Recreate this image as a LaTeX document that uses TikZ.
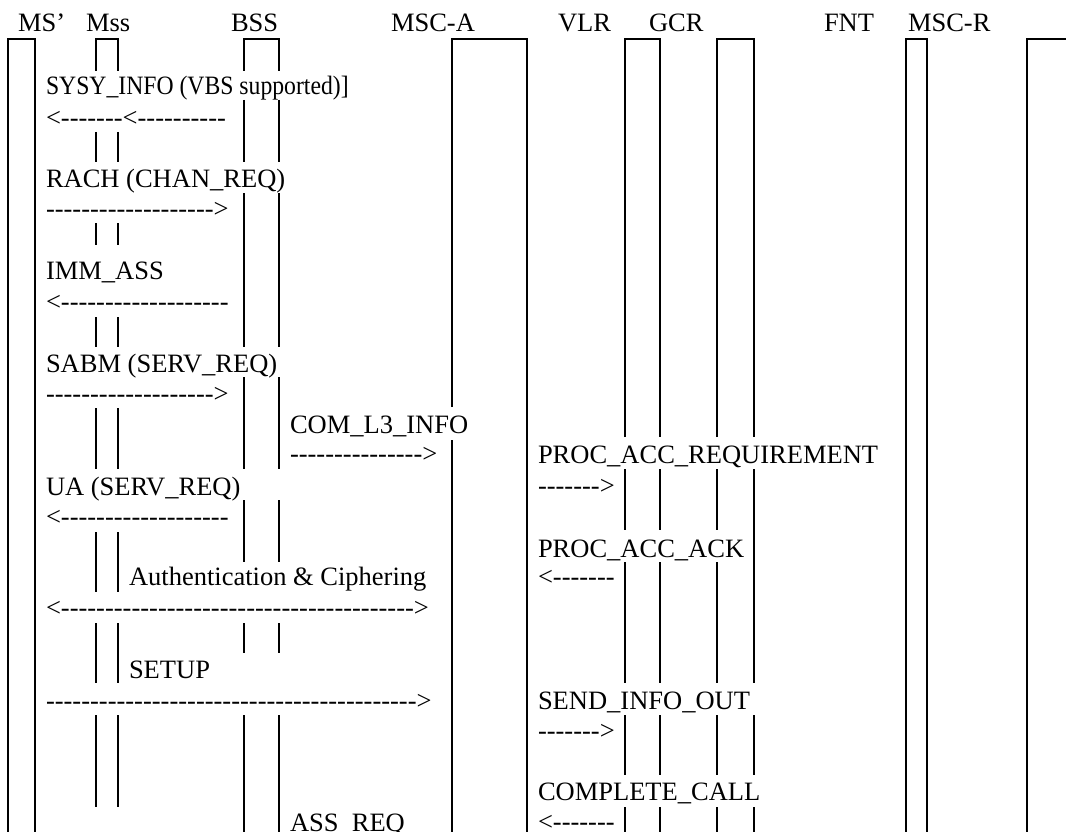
\documentclass[tikz,border=0pt]{standalone}
\usepackage{fontspec}
\newfontfamily\sigfont{Liberation Serif}

\tikzset{
  lbl/.style={anchor=base west, inner sep=0pt, font=\sigfont\fontsize{26.5}{30}\selectfont},
}

\begin{document}
\begin{tikzpicture}[x=1pt, y=-1pt, line width=2pt]

  \useasboundingbox (0,0) rectangle (1066,832);
  \clip (0,0) rectangle (1066,832);

  % --- intestazioni ---
  \node[lbl] (hMS)   at (17,32)  {MS’};
  \node[lbl] (hMss)  at (85,32)  {Mss};
  \node[lbl] (hBSS)  at (230,32) {BSS};
  \node[lbl] (hMSCA) at (390,32) {MSC-A};
  \node[lbl] (hVLR)  at (557,32) {VLR};
  \node[lbl] (hGCR)  at (648,32) {GCR};
  \node[lbl] (hFNT)  at (823,32) {FNT};
  \node[lbl] (hMSCR) at (907,32) {MSC-R};

  % --- MS' ---
  \draw (8,840) -- (8,39) -- (35,39) -- (35,840);

  % --- Mss (interrotta dai messaggi) ---
  \draw (96,71) -- (96,39) -- (118,39) -- (118,71);
  \draw (96,132) -- (96,162) (118,132) -- (118,162);
  \draw (96,223) -- (96,245) (118,223) -- (118,245);
  \draw (96,317) -- (96,347) (118,317) -- (118,347);
  \draw (96,408) -- (96,469) (118,408) -- (118,469);
  \draw (96,532) -- (96,592) (118,532) -- (118,592);
  \draw (96,623) -- (96,683) (118,623) -- (118,683);
  \draw (96,715) -- (96,807) (118,715) -- (118,807);

  % --- BSS ---
  \draw (244,71) -- (244,39) -- (279,39) -- (279,71);
  \draw (244,100) -- (244,162) (279,100) -- (279,162);
  \draw (244,193) -- (244,347) (279,193) -- (279,347);
  \draw (244,377) -- (244,469) (279,377) -- (279,469);
  \draw (244,500) -- (244,562) (279,500) -- (279,562);
  \draw (244,623) -- (244,653) (279,623) -- (279,653);
  \draw (244,715) -- (244,840) (279,715) -- (279,840);

  % --- MSC-A ---
  \draw (452,407) -- (452,39) -- (527,39) -- (527,840);
  \draw (452,440) -- (452,840);

  % --- VLR / GCR ---
  \draw (625,437) -- (625,39) -- (660,39) -- (660,437);
  \draw (625,469) -- (625,530) (660,469) -- (660,530);
  \draw (625,562) -- (625,683) (660,562) -- (660,683);
  \draw (625,715) -- (625,775) (660,715) -- (660,775);
  \draw (625,807) -- (625,840) (660,807) -- (660,840);

  \draw (717,437) -- (717,39) -- (754,39) -- (754,437);
  \draw (717,469) -- (717,530) (754,469) -- (754,683);
  \draw (717,562) -- (717,683);
  \draw (717,715) -- (717,775) (754,715) -- (754,775);
  \draw (717,807) -- (717,840) (754,807) -- (754,840);

  % --- MSC-R e ultima colonna ---
  \draw (906,840) -- (906,39) -- (927,39) -- (927,840);
  \draw (1027,840) -- (1027,39) -- (1080,39);

  % --- messaggi MS / BSS ---
  \node[lbl] (sysInfo) at (45,95)  {\scalebox{0.894}[1]{SYSY\_INFO (VBS supported)]}};
  \node[lbl] (sysArr)  at (45,127) {<-------<----------};
  \node[lbl] (rach)    at (45,188) {RACH (CHAN\_REQ)};
  \node[lbl] (rachArr) at (45,217) {------------------->};
  \node[lbl] (immAss)  at (45,279) {IMM\_ASS};
  \node[lbl] (immArr)  at (45,310) {<-------------------};
  \node[lbl] (sabm)    at (45,372) {SABM (SERV\_REQ)};
  \node[lbl] (sabmArr) at (45,402) {------------------->};
  \node[lbl] (ua)      at (45,495) {UA (SERV\_REQ)};
  \node[lbl] (uaArr)   at (45,525) {<-------------------};

  % --- BSS -> MSC-A ---
  \node[lbl] (comL3)    at (289,433) {COM\_L3\_INFO};
  \node[lbl] (comL3Arr) at (289,462) {--------------->};
  \node[lbl] (assReq)   at (289,831) {ASS\_REQ};

  % --- MS <-> MSC-A ---
  \node[lbl] (auth)     at (128,585) {Authentication \& Ciphering};
  \node[lbl] (authArr)  at (45,616)  {<---------------------------------------->};
  \node[lbl] (setup)    at (128,678) {SETUP};
  \node[lbl] (setupArr) at (45,709)  {------------------------------------------>};

  % --- MSC-A <-> VLR ---
  \node[lbl] (procReq)     at (537,463) {PROC\_ACC\_REQUIREMENT};
  \node[lbl] (procReqArr)  at (537,494) {------->};
  \node[lbl] (procAck)     at (537,557) {PROC\_ACC\_ACK};
  \node[lbl] (procAckArr)  at (537,585) {<-------};
  \node[lbl] (sendInfo)    at (537,709) {SEND\_INFO\_OUT};
  \node[lbl] (sendInfoArr) at (537,739) {------->};
  \node[lbl] (complete)    at (537,800) {COMPLETE\_CALL};
  \node[lbl] (completeArr) at (537,830) {<-------};

\end{tikzpicture}
\end{document}
